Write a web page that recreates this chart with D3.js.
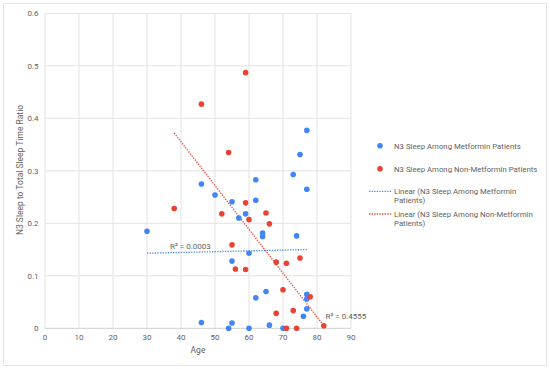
<!DOCTYPE html>
<html lang="en">
<head>
<meta charset="utf-8">
<title>N3 Sleep vs Age</title>
<script src="https://d3js.org/d3.v7.min.js"></script>
<style>
  body { margin: 0; background: #fff; }
  svg { display: block; font-family: Roboto, "Liberation Sans", Arial, sans-serif; }
</style>
</head>
<body>
<svg id="chart" width="550" height="369"></svg>
<script>
// metformin patients: age, ratio
var metAge   = [30, 46, 46, 50, 55, 55, 55, 54, 57, 59, 60, 60, 62, 62, 62, 64, 64, 65, 66, 70, 73, 74, 75, 76, 77, 77, 77, 77, 77]
var metRatio = [0.185, 0.275, 0.011, 0.254, 0.241, 0.128, 0.010, 0.0, 0.210, 0.218, 0.143, 0.0, 0.283, 0.244, 0.058,
                0.1815, 0.175, 0.070, 0.006, 0.0, 0.293, 0.176, 0.331, 0.023, 0.377, 0.265, 0.065, 0.056, 0.037]

// non-metformin patients
var nonAge   = [38, 46, 52, 54, 55, 56, 59, 59, 59, 60, 65, 66, 68, 68, 70, 71, 71, 73, 74, 75, 78, 82]
var nonRatio = [0.228, 0.427, 0.218, 0.335, 0.159, 0.113, 0.487, 0.239, 0.112, 0.207, 0.2195, 0.199, 0.126, 0.0285,
                0.0735, 0.124, 0.0, 0.034, 0.0, 0.134, 0.060, 0.005]

// trendline end points as drawn (age, ratio)
var metTrend = [[30, 0.143], [77, 0.150]]
var nonTrend = [[38, 0.372], [82, 0.005]]
var metR2 = "R² = 0.0003"
var nonR2 = "R² = 0.4555"

var xTicks = [0, 10, 20, 30, 40, 50, 60, 70, 80, 90]
var yTicks = [0, 0.1, 0.2, 0.3, 0.4, 0.5, 0.6]

var blue = "#4285f4", red = "#ea4335"
var gridCol = "#e3e3e3", textCol = "#5f5f5f"

var svg = d3.select("#chart")

// outer frame
svg.append("rect")
  .attr("x", 3.5).attr("y", 3.5).attr("width", 543).attr("height", 362)
  .attr("fill", "#fff").attr("stroke", "#e6e6e6")

var x = d3.scaleLinear().domain([0, 90]).range([45, 351])
var y = d3.scaleLinear().domain([0, 0.6]).range([328.3, 13.3])

// grid
svg.append("g").selectAll("line").data(xTicks).join("line")
  .attr("x1", d => x(d)).attr("x2", d => x(d))
  .attr("y1", y(0)).attr("y2", y(0.6))
  .attr("stroke", gridCol)
svg.append("g").selectAll("line").data(yTicks).join("line")
  .attr("x1", x(0)).attr("x2", x(90))
  .attr("y1", d => y(d)).attr("y2", d => y(d))
  .attr("stroke", d => d == 0 ? "#cfcfcf" : gridCol)

// tick labels
svg.append("g").selectAll("text").data(xTicks).join("text")
  .attr("x", d => x(d)).attr("y", 340)
  .attr("text-anchor", "middle").attr("font-size", 8).attr("fill", textCol)
  .text(d => d)
svg.append("g").selectAll("text").data(yTicks).join("text")
  .attr("x", 38.5).attr("y", d => y(d) + 3)
  .attr("text-anchor", "end").attr("font-size", 8).attr("fill", textCol)
  .text(d => d == 0 ? "0" : d3.format(".1f")(d))

// axis titles
svg.append("text")
  .attr("x", 198).attr("y", 353)
  .attr("text-anchor", "middle").attr("font-size", 8.5).attr("fill", textCol)
  .text("Age")
svg.append("text")
  .attr("transform", "translate(23,170) rotate(-90)")
  .attr("text-anchor", "middle").attr("font-size", 8.5).attr("fill", textCol)
  .text("N3 Sleep to Total Sleep Time Ratio")

// trendlines (dotted)
var line = d3.line().x(d => x(d[0])).y(d => y(d[1]))
svg.append("path").attr("d", line(metTrend))
  .attr("fill", "none").attr("stroke", blue).attr("stroke-width", 1.3).attr("stroke-dasharray", "1.3,1.3")
svg.append("path").attr("d", line(nonTrend))
  .attr("fill", "none").attr("stroke", red).attr("stroke-width", 1.3).attr("stroke-dasharray", "1.3,1.3")

// points
svg.append("g").selectAll("circle").data(d3.range(metAge.length)).join("circle")
  .attr("cx", i => x(metAge[i])).attr("cy", i => y(metRatio[i]))
  .attr("r", 2.8).attr("fill", blue)
svg.append("g").selectAll("circle").data(d3.range(nonAge.length)).join("circle")
  .attr("cx", i => x(nonAge[i])).attr("cy", i => y(nonRatio[i]))
  .attr("r", 2.8).attr("fill", red)

// R squared labels
svg.append("text").attr("x", 170).attr("y", 248.5)
  .attr("font-size", 8).attr("fill", textCol).text(metR2)
svg.append("text").attr("x", 325.5).attr("y", 318.5)
  .attr("font-size", 8).attr("fill", textCol).text(nonR2)

// legend
var lx = 394
var legend = svg.append("g").attr("font-size", 7.8).attr("fill", textCol)
legend.append("circle").attr("cx", 380).attr("cy", 145.7).attr("r", 2.8).attr("fill", blue)
legend.append("text").attr("x", lx).attr("y", 148.5).text("N3 Sleep Among Metformin Patients")
legend.append("circle").attr("cx", 380).attr("cy", 168.7).attr("r", 2.8).attr("fill", red)
legend.append("text").attr("x", lx).attr("y", 171.5).text("N3 Sleep Among Non-Metformin Patients")

legend.append("line").attr("x1", 369).attr("x2", 391).attr("y1", 191.3).attr("y2", 191.3)
  .attr("stroke", blue).attr("stroke-width", 1.3).attr("stroke-dasharray", "1.3,1.3")
legend.append("text").attr("x", lx).attr("y", 194).text("Linear (N3 Sleep Among Metformin")
legend.append("text").attr("x", lx).attr("y", 203).text("Patients)")
legend.append("line").attr("x1", 369).attr("x2", 391).attr("y1", 214).attr("y2", 214)
  .attr("stroke", red).attr("stroke-width", 1.3).attr("stroke-dasharray", "1.3,1.3")
legend.append("text").attr("x", lx).attr("y", 216.8).text("Linear (N3 Sleep Among Non-Metformin")
legend.append("text").attr("x", lx).attr("y", 225.8).text("Patients)")
</script>
</body>
</html>
